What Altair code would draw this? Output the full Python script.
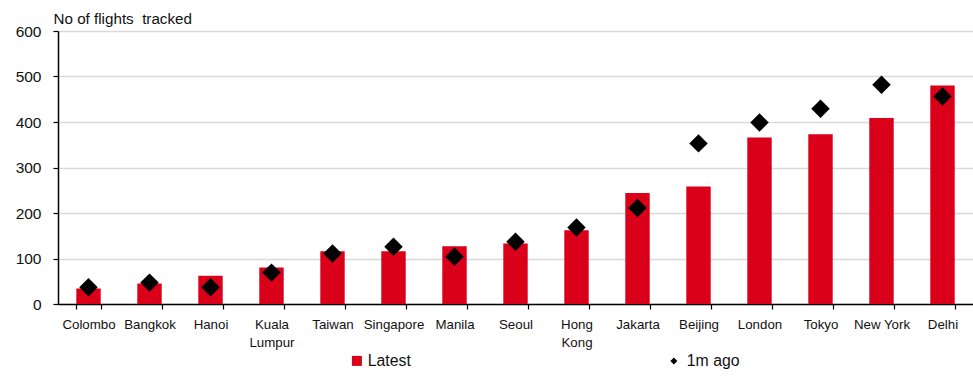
import altair as alt
import pandas as pd

# Cities, in the order shown on the x axis
cities = ["Colombo", "Bangkok", "Hanoi", "Kuala Lumpur", "Taiwan", "Singapore",
          "Manila", "Seoul", "Hong Kong", "Jakarta", "Beijing", "London",
          "Tokyo", "New York", "Delhi"]
# Number of flights tracked: latest reading and one month earlier
latest = [34, 45, 62, 80, 116, 116, 127, 133, 162, 244, 258, 366, 373, 409, 480]
month_ago = [37, 47, 37, 69, 111, 126, 104, 137, 168, 211, 353, 399, 429, 482, 456]

RED = "#da0019"
FONT = "Liberation Sans"

bars_df = pd.DataFrame({"city": cities, "value": latest, "series": "Latest"})
pts_df = pd.DataFrame({"city": cities, "value": month_ago, "series": "1m ago"})

x_enc = alt.X(
    "city:N",
    sort=cities,
    scale=alt.Scale(paddingInner=0.6, paddingOuter=0.3),
    axis=alt.Axis(
        title=None,
        labelAngle=0,
        labelFont=FONT,
        labelFontSize=13.3,
        labelColor="#111",
        labelPadding=8,
        labelLineHeight=18,
        labelBaseline="top",
        labelOverlap=False,
        labelExpr="datum.value == 'Kuala Lumpur' ? ['Kuala', 'Lumpur'] : "
                  "datum.value == 'Hong Kong' ? ['Hong', 'Kong'] : datum.label",
        tickBand="extent",
        tickSize=5,
        tickColor="#000",
        domainColor="#000",
        domainWidth=1.5,
        tickWidth=1.2,
        grid=False,
    ),
)

y_scale = alt.Scale(domain=[0, 600], nice=False)
y_axis = alt.Axis(
    # non-breaking space keeps the wider gap before "tracked"
    title="No of flights\u00a0 tracked",
    titleAngle=0,
    titleAlign="left",
    titleBaseline="alphabetic",
    titleX=-5,
    titleY=-8,
    titleFont=FONT,
    titleFontSize=15.2,
    titleFontWeight="normal",
    titleColor="#111",
    values=[0, 100, 200, 300, 400, 500, 600],
    labelFont=FONT,
    labelFontSize=15.5,
    labelColor="#111",
    labelPadding=12,
    tickSize=5,
    tickColor="#000",
    domainColor="#000",
    domainWidth=1.5,
    tickWidth=1.2,
    gridColor="#d9d9d9",
    gridWidth=1.5,
)

bars = alt.Chart(bars_df).mark_bar().encode(
    x=x_enc,
    y=alt.Y("value:Q", scale=y_scale, axis=y_axis),
    color=alt.Color(
        "series:N",
        scale=alt.Scale(domain=["Latest"], range=[RED]),
        legend=alt.Legend(
            title=None,
            orient="none",
            legendX=291,
            legendY=322,
            padding=0,
            symbolType="square",
            symbolSize=100,
            symbolStrokeWidth=0,
            labelOffset=3,
            labelFont=FONT,
            labelFontSize=15.8,
            labelColor="#111",
        ),
    ),
)

points = alt.Chart(pts_df).mark_point(filled=True, color="#000", size=340, opacity=1).encode(
    x=alt.X("city:N", sort=cities),
    y=alt.Y("value:Q"),
    shape=alt.Shape(
        "series:N",
        scale=alt.Scale(domain=["1m ago"], range=["diamond"]),
        legend=alt.Legend(
            title=None,
            orient="none",
            legendX=608,
            legendY=322,
            padding=0,
            symbolSize=49,
            symbolFillColor="#000",
            symbolStrokeWidth=0,
            labelOffset=5,
            labelFont=FONT,
            labelFontSize=15.8,
            labelColor="#111",
        ),
    ),
)

chart = (
    alt.layer(bars, points)
    .resolve_scale(color="independent", shape="independent")
    .properties(
        width=915,
        height=273,
        autosize=alt.AutoSizeParams(type="none"),
        padding={"left": 58, "top": 31, "right": 0, "bottom": 72},
    )
    .configure_view(stroke=None)
    .configure(background="white")
)

chart.save("out.html", embed_options={"renderer": "svg", "actions": False})
